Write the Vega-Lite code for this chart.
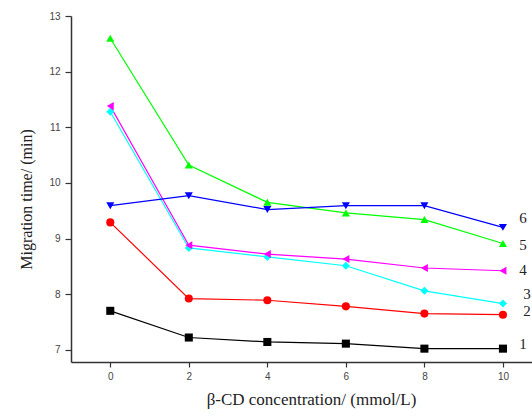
{
  "$schema": "https://vega.github.io/schema/vega-lite/v6.json",
  "width": 461,
  "height": 346,
  "autosize": {"type": "none"},
  "padding": {"left": 71, "top": 16, "right": 0, "bottom": 55},
  "background": "white",
  "config": {"view": {"stroke": null}},
  "datasets": {
    "series": [
      {"series": "1", "conc": 0, "time": 7.70}, {"series": "1", "conc": 2, "time": 7.22}, {"series": "1", "conc": 4, "time": 7.14},
      {"series": "1", "conc": 6, "time": 7.11}, {"series": "1", "conc": 8, "time": 7.02}, {"series": "1", "conc": 10, "time": 7.02},
      {"series": "2", "conc": 0, "time": 9.29}, {"series": "2", "conc": 2, "time": 7.92}, {"series": "2", "conc": 4, "time": 7.89},
      {"series": "2", "conc": 6, "time": 7.78}, {"series": "2", "conc": 8, "time": 7.65}, {"series": "2", "conc": 10, "time": 7.63},
      {"series": "3", "conc": 0, "time": 11.28}, {"series": "3", "conc": 2, "time": 8.83}, {"series": "3", "conc": 4, "time": 8.67},
      {"series": "3", "conc": 6, "time": 8.51}, {"series": "3", "conc": 8, "time": 8.06}, {"series": "3", "conc": 10, "time": 7.83},
      {"series": "4", "conc": 0, "time": 11.38}, {"series": "4", "conc": 2, "time": 8.88}, {"series": "4", "conc": 4, "time": 8.72},
      {"series": "4", "conc": 6, "time": 8.63}, {"series": "4", "conc": 8, "time": 8.47}, {"series": "4", "conc": 10, "time": 8.42},
      {"series": "5", "conc": 0, "time": 12.60}, {"series": "5", "conc": 2, "time": 10.32}, {"series": "5", "conc": 4, "time": 9.65},
      {"series": "5", "conc": 6, "time": 9.46}, {"series": "5", "conc": 8, "time": 9.34}, {"series": "5", "conc": 10, "time": 8.91},
      {"series": "6", "conc": 0, "time": 9.59}, {"series": "6", "conc": 2, "time": 9.77}, {"series": "6", "conc": 4, "time": 9.52},
      {"series": "6", "conc": 6, "time": 9.59}, {"series": "6", "conc": 8, "time": 9.59}, {"series": "6", "conc": 10, "time": 9.20}
    ],
    "labels": [
      {"series": "6", "conc": 10.51, "time": 9.37},
      {"series": "5", "conc": 10.51, "time": 8.89},
      {"series": "4", "conc": 10.51, "time": 8.44},
      {"series": "3", "conc": 10.61, "time": 8.0},
      {"series": "2", "conc": 10.61, "time": 7.69},
      {"series": "1", "conc": 10.51, "time": 7.11}
    ]
  },
  "encoding": {
    "x": {
      "field": "conc", "type": "quantitative",
      "scale": {"domain": [-1, 10.74], "nice": false, "zero": false},
      "axis": {
        "values": [0, 2, 4, 6, 8, 10], "grid": false,
        "title": "β-CD concentration/ (mmol/L)",
        "titleFont": "Liberation Serif", "titleFontSize": 17, "titleFontWeight": "normal", "titleColor": "#222",
        "titlePadding": 10, "titleX": 240,
        "labelFont": "Liberation Sans", "labelFontSize": 10, "labelColor": "#444", "labelPadding": 4,
        "domainColor": "#333", "domainWidth": 1.5, "tickColor": "#333", "tickSize": 5, "tickWidth": 1.2
      }
    },
    "y": {
      "field": "time", "type": "quantitative",
      "scale": {"domain": [6.78, 13], "nice": false, "zero": false},
      "axis": {
        "values": [7, 8, 9, 10, 11, 12, 13], "grid": false,
        "title": "Migration time/ (min)",
        "titleFont": "Liberation Serif", "titleFontSize": 16, "titleFontWeight": "normal", "titleColor": "#222",
        "titlePadding": 14, "titleY": 183,
        "labelFont": "Liberation Sans", "labelFontSize": 10, "labelColor": "#444", "labelPadding": 5,
        "domainColor": "#333", "domainWidth": 1.5, "tickColor": "#333", "tickSize": 6, "tickWidth": 1.2
      }
    },
    "color": {
      "field": "series", "type": "nominal",
      "scale": {"domain": ["1", "2", "3", "4", "5", "6"], "range": ["#000000", "#FF0000", "#00FFFF", "#FF00FF", "#00FF00", "#0000FF"]},
      "legend": null
    }
  },
  "layer": [
    {
      "data": {"name": "series"},
      "mark": {"type": "line", "strokeWidth": 1.2},
      "encoding": {"detail": {"field": "series"}}
    },
    {
      "data": {"name": "series"},
      "mark": {"type": "point", "filled": true, "opacity": 1, "size": 65},
      "encoding": {
        "shape": {
          "field": "series", "type": "nominal",
          "scale": {"domain": ["1", "2", "3", "4", "5", "6"], "range": ["square", "circle", "diamond", "triangle-left", "triangle-up", "triangle-down"]},
          "legend": null
        }
      }
    },
    {
      "data": {"name": "labels"},
      "mark": {"type": "text", "font": "Liberation Serif", "fontSize": 15, "align": "center", "baseline": "middle"},
      "encoding": {"text": {"field": "series"}, "color": {"value": "#222"}}
    }
  ]
}
